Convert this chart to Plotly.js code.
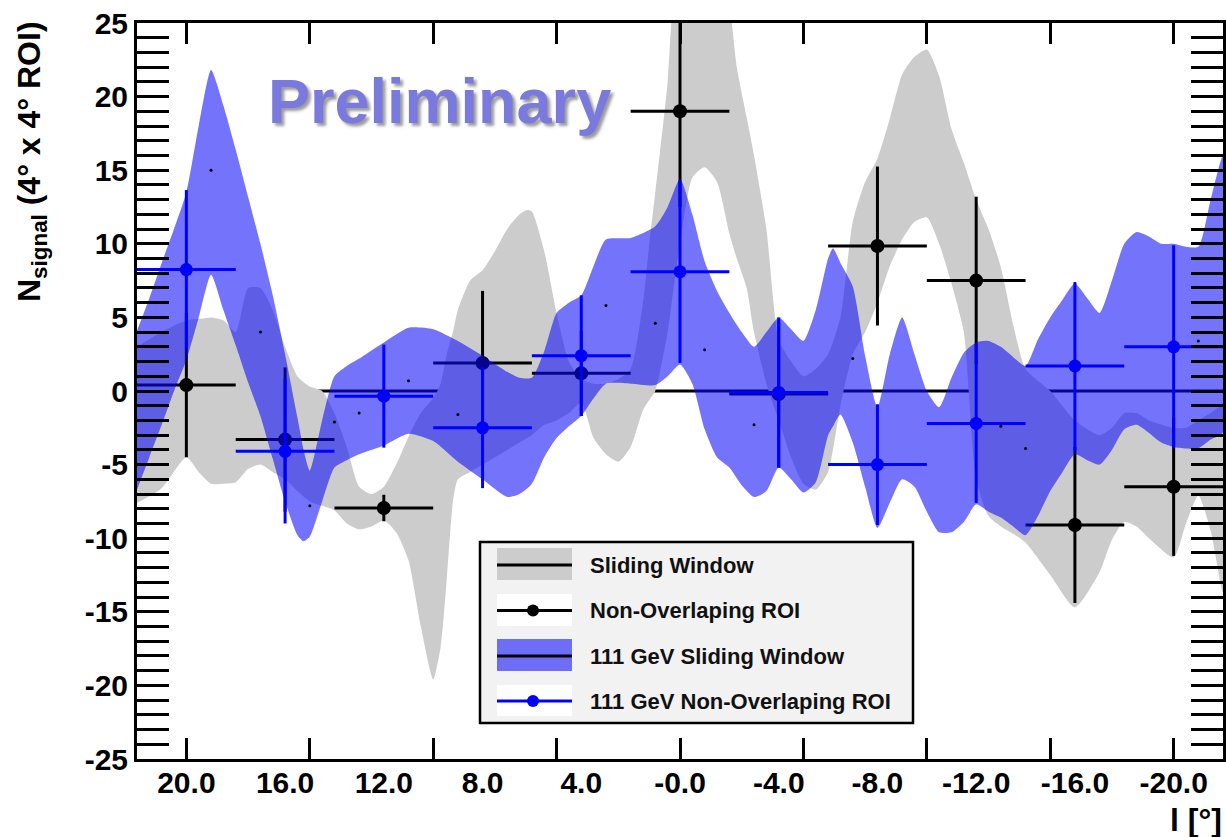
<!DOCTYPE html>
<html><head><meta charset="utf-8">
<script src="https://cdn.plot.ly/plotly-3.0.1.min.js"></script>
<style>html,body{margin:0;padding:0;background:#fff;}#chart{width:1226px;height:837px;}</style>
</head><body><div id="chart"></div>
<script>
// ---------- data ----------
const roiL = [20, 16, 12, 8, 4, 0, -4, -8, -12, -16, -20];
const tickLabels = ['20.0','16.0','12.0','8.0','4.0','-0.0','-4.0','-8.0','-12.0','-16.0','-20.0'];
const majorTickL = [20, 15, 10, 5, 0, -5, -10, -15, -20];
const yTickVals = [25, 20, 15, 10, 5, 0, -5, -10, -15, -20, -25];
const yTickLabels = ['25', '20', '15', '10', '5', '0', '-5', '-10', '-15', '-20', '-25'];
const roiHalfWidth = 2;

const roiVal = [0.4, -3.3, -7.95, 1.9, 1.2, 19.0, -0.2, 9.85, 7.5, -9.1, -6.5];
const roiErr = [4.9, 4.9, 0.9, 4.9, 2.9, 6.5, 5.0, 5.4, 5.7, 5.3, 4.7];

const roi111Val = [8.25, -4.1, -0.35, -2.5, 2.4, 8.1, -0.1, -5.0, -2.2, 1.7, 3.0];
const roi111Err = [5.4, 4.9, 3.5, 4.1, 4.1, 6.2, 5.1, 4.1, 5.4, 5.7, 6.9];

const swL    = [22,21,20,19.5,19,18.5,18,17.5,17,16.5,16,15.5,15,14.5,14,13.5,13,12.5,12,11.5,11,10.5,10,9.7,9.45,9.2,9,8.5,8,7.5,7,6.5,6.2,6,5.5,5,4.5,4,3.5,3,2.5,2,1.5,1.2,1,0.5,0.3,0,-0.5,-1,-1.5,-2,-2.3,-2.7,-3,-3.5,-4,-4.5,-5,-5.5,-6,-6.5,-7,-7.5,-8,-8.5,-9,-9.5,-10,-10.5,-11,-11.5,-12,-12.5,-13,-13.5,-14,-15,-16,-17,-17.5,-18,-18.5,-19,-20,-20.5,-21,-21.5,-22];
const swLow  = [-7.6,-6.6,-4.5,-5.5,-6.3,-6.3,-6.2,-5.3,-5.0,-5.5,-6.0,-6.8,-7.5,-7.8,-8.1,-9.0,-9.4,-9.2,-8.8,-9.6,-11.5,-16.0,-19.6,-17.4,-12.8,-7.5,-6.0,-5.5,-5.0,-4.5,-4.0,-3.5,-3.2,-3.0,-2.3,-2.0,-1.5,-0.8,-3.2,-4.3,-4.8,-3.8,-1.3,-0.5,0.0,4.0,6.5,10.0,14.5,15.2,14.2,10.7,9.0,7.0,4.0,0.5,-2.0,-4.5,-6.3,-6.7,-5.5,-1.0,2.5,4.0,6.0,8.5,10.3,11.5,11.8,10.0,7.3,4.0,-6.0,-8.5,-9.2,-9.7,-10.3,-12.5,-14.7,-12.3,-10.1,-8.9,-9.2,-10.0,-11.3,-9.0,-7.1,-9.5,-13.7];
const swHigh = [3.0,4.0,4.8,4.9,5.0,4.8,4.0,7.0,7.0,5.5,3.0,1.0,0.3,0.0,-1.5,-3.8,-6.5,-7.0,-6.5,-5.0,-3.1,-1.5,-0.5,0.5,2.5,4.0,5.5,7.5,8.2,9.5,11.0,12.0,12.3,12.2,9.5,5.3,2.0,0.8,0.5,0.5,0.8,1.5,6.0,10.7,13.5,21.0,26.0,28.0,28.0,28.0,28.0,26.0,22.0,18.6,16.0,11.0,3.5,2.0,1.0,1.5,2.5,5.0,11.5,14.2,15.8,18.5,21.5,22.7,23.2,21.4,17.8,15.5,13.0,11.0,8.4,4.5,1.5,0.0,-2.0,-3.0,-2.5,-1.5,-1.5,-2.0,-2.5,-2.5,-2.0,-1.5,-1.0];

const sw111L    = [22,21.5,21,20.5,20,19.5,19,18.5,18,17.5,17,16.5,16,15.5,15.25,15,14.5,14,13.5,13,12,11,10,9,8,7,6.5,6,5.5,5,4.5,4,3.5,3,2,1,0.5,0,-0.5,-1,-1.5,-2,-2.5,-3,-3.5,-4,-4.5,-5,-5.5,-6,-6.2,-6.5,-7,-7.5,-8,-8.5,-9,-9.5,-10,-10.5,-11,-11.5,-12,-12.5,-13,-13.5,-14,-14.5,-15,-15.5,-16,-16.5,-17,-17.5,-18,-18.5,-19,-19.5,-20,-20.5,-21,-21.5,-22];
const sw111Low  = [-6.7,-4.5,-2.3,0.0,2.1,5.0,7.9,5.5,3.1,0.6,-1.7,-4.6,-7.5,-9.8,-10.2,-9.9,-7.5,-5.2,-4.7,-4.3,-3.7,-2.9,-3.4,-4.8,-6.0,-7.2,-7.0,-6.3,-4.5,-3.2,-2.4,-1.7,-0.5,0.5,0.5,0.4,1.0,1.8,0.5,-2.6,-4.5,-5.2,-6.4,-7.2,-6.8,-5.2,-6.0,-6.9,-6.2,-3.0,-2.4,-1.6,-3.5,-6.5,-9.3,-7.6,-6.0,-6.5,-8.2,-9.6,-9.6,-8.9,-7.7,-8.2,-8.6,-9.2,-9.8,-8.5,-6.8,-5.5,-4.3,-4.7,-5.0,-4.0,-2.6,-2.3,-2.85,-3.5,-3.8,-3.9,-3.9,-3.3,-2.8];
const sw111High = [4.1,6.3,8.7,11.0,13.5,18.0,21.8,19.4,16.4,13.2,10.0,6.5,2.5,-1.8,-4.0,-5.4,-2.0,1.0,1.7,2.2,3.3,4.3,4.2,3.4,2.4,1.3,0.9,0.9,2.7,5.3,6.0,6.5,8.5,10.3,10.4,11.2,12.5,14.4,12.0,8.8,6.8,5.3,4.0,3.0,4.0,5.0,4.2,3.4,5.5,9.0,9.7,8.7,7.1,2.4,-1.1,2.5,5.0,2.5,0.0,-1.1,0.9,2.6,3.3,3.4,3.0,2.3,1.7,3.5,5.0,6.2,7.3,6.3,5.3,7.5,10.0,10.8,10.5,10.0,10.0,9.8,9.8,13.0,16.0];

const sw111CenterL = [19, 17, 15, 14, 13, 11, 9, 3, 1, -1, -3, -7, -13, -14, -21];
const sw111Center  = [15.0, 4.0, -7.8, -2.1, -1.5, 0.7, -1.6, 5.8, 4.6, 2.8, -2.3, 2.2, -2.4, -3.9, 3.4];

const legendLabels = ['Sliding Window', 'Non-Overlaping ROI', '111 GeV Sliding Window', '111 GeV Non-Overlaping ROI'];

// ---------- styles ----------
const GRAY = '#cccccc';
const BLUE = '#0000ff';
const BLUEFILL = 'rgba(8,8,250,0.57)';
const FONT = 'Liberation Sans, Arial, Helvetica, sans-serif';

function band(xs, lo, hi, color) {
  return {
    x: xs.concat(xs.slice().reverse()),
    y: hi.concat(lo.slice().reverse()),
    type: 'scatter', mode: 'lines', fill: 'toself', fillcolor: color,
    line: {width: 0, shape: 'spline', smoothing: 0.6, color: color},
    hoverinfo: 'skip', showlegend: false
  };
}

const traces = [
  band(swL, swLow, swHigh, GRAY),
  {
    x: roiL, y: roiVal, type: 'scatter', mode: 'markers',
    marker: {color: 'black', size: 14},
    error_y: {type: 'data', array: roiErr, color: 'black', thickness: 3, width: 0},
    error_x: {type: 'constant', value: roiHalfWidth, color: 'black', thickness: 3, width: 0},
    showlegend: false
  },
  band(sw111L, sw111Low, sw111High, BLUEFILL),
  {
    x: roiL, y: roi111Val, type: 'scatter', mode: 'markers',
    marker: {color: BLUE, size: 13},
    error_y: {type: 'data', array: roi111Err, color: BLUE, thickness: 3, width: 0},
    error_x: {type: 'constant', value: roiHalfWidth, color: BLUE, thickness: 3, width: 0},
    showlegend: false
  },
  {
    x: sw111CenterL, y: sw111Center, type: 'scatter', mode: 'markers',
    marker: {color: 'black', size: 3}, showlegend: false
  }
];

// plot frame in pixels: left 137, right 1223, top 23, bottom 759
const PL = 137, PR = 1223, PT = 23, PB = 759;
const px = v => (v - PL) / (PR - PL);
const py = v => (PB - v) / (PB - PT);

const shapes = [
  {type: 'line', xref: 'paper', yref: 'y', x0: 0, x1: 1, y0: 0, y1: 0, layer: 'below', line: {color: 'black', width: 3}},
  // legend box
  {type: 'rect', xref: 'paper', yref: 'paper', x0: px(480), x1: px(913), y0: py(542), y1: py(723), fillcolor: '#f2f2f2', line: {color: 'black', width: 2.5}},
  // entry 1
  {type: 'rect', xref: 'paper', yref: 'paper', x0: px(497), x1: px(572), y0: py(548), y1: py(580), fillcolor: GRAY, line: {width: 0}},
  {type: 'line', xref: 'paper', yref: 'paper', x0: px(497), x1: px(572), y0: py(565), y1: py(565), line: {color: 'black', width: 3}},
  // entry 2
  {type: 'rect', xref: 'paper', yref: 'paper', x0: px(497), x1: px(572), y0: py(594), y1: py(626), fillcolor: 'white', line: {width: 0}},
  {type: 'line', xref: 'paper', yref: 'paper', x0: px(497), x1: px(572), y0: py(610.5), y1: py(610.5), line: {color: 'black', width: 3}},
  {type: 'circle', xref: 'paper', yref: 'paper', x0: px(527), x1: px(539), y0: py(604.5), y1: py(616.5), fillcolor: 'black', line: {width: 0}},
  // entry 3
  {type: 'rect', xref: 'paper', yref: 'paper', x0: px(497), x1: px(572), y0: py(639), y1: py(671), fillcolor: BLUEFILL, line: {width: 0}},
  {type: 'line', xref: 'paper', yref: 'paper', x0: px(497), x1: px(572), y0: py(656), y1: py(656), line: {color: 'black', width: 3}},
  // entry 4
  {type: 'rect', xref: 'paper', yref: 'paper', x0: px(497), x1: px(572), y0: py(685), y1: py(716), fillcolor: 'white', line: {width: 0}},
  {type: 'line', xref: 'paper', yref: 'paper', x0: px(497), x1: px(572), y0: py(701), y1: py(701), line: {color: BLUE, width: 3}},
  {type: 'circle', xref: 'paper', yref: 'paper', x0: px(527), x1: px(539), y0: py(695), y1: py(707), fillcolor: BLUE, line: {width: 0}}
];

const legendY = [565, 610.5, 656, 701];
const annotations = legendLabels.map((t, i) => ({
  text: t, xref: 'paper', yref: 'paper', x: px(588), y: py(legendY[i]),
  xanchor: 'left', yanchor: 'middle', showarrow: false,
  font: {family: FONT, size: 22, weight: 'bold', color: '#111'}
}));

annotations.push({
  text: 'Preliminary', xref: 'paper', yref: 'paper', x: px(266), y: py(101),
  xanchor: 'left', yanchor: 'middle', showarrow: false,
  font: {family: FONT, size: 63, weight: 'bold', color: 'rgb(122,122,222)', shadow: '3px 3px 3px rgba(90,90,90,0.6)'}
});
annotations.push({
  text: 'N<sub>signal</sub> (4° x 4° ROI)', xref: 'paper', yref: 'paper', x: px(31), y: py(162),
  xanchor: 'center', yanchor: 'middle', textangle: -90, showarrow: false,
  font: {family: FONT, size: 32, weight: 'bold', color: 'black'}
});
annotations.push({
  text: 'l [°]', xref: 'paper', yref: 'paper', x: px(1224), y: py(820),
  xanchor: 'right', yanchor: 'middle', showarrow: false,
  font: {family: FONT, size: 32, weight: 'bold', color: 'black'}
});

const tickFont = {family: FONT, size: 30, weight: 'bold', color: 'black'};

const layout = {
  width: 1226, height: 837,
  margin: {l: PL, r: 1226 - PR, t: PT, b: 837 - PB, pad: 0},
  paper_bgcolor: 'white', plot_bgcolor: 'white',
  showlegend: false,
  xaxis: {
    range: [22, -22], tickmode: 'array', tickvals: roiL, ticktext: tickLabels,
    ticks: '', showline: true, linecolor: 'black', linewidth: 3, mirror: true,
    showgrid: false, zeroline: false, tickfont: tickFont, ticklabelstandoff: -5
  },
  xaxis2: {
    overlaying: 'x', anchor: 'y', side: 'bottom', range: [22, -22],
    tickmode: 'array', tickvals: majorTickL, ticks: 'inside', ticklen: 21, tickwidth: 3, tickcolor: 'black',
    showticklabels: false, mirror: 'allticks', showline: false, showgrid: false, zeroline: false
  },
  yaxis: {
    range: [-25, 25], tickmode: 'array', tickvals: yTickVals, ticktext: yTickLabels,
    ticks: 'inside', ticklen: 32, tickwidth: 3, tickcolor: 'black',
    minor: {dtick: 1, ticklen: 17, tickwidth: 3, ticks: 'inside', tickcolor: 'black', showgrid: false},
    showline: true, linecolor: 'black', linewidth: 3, mirror: 'allticks',
    showgrid: false, zeroline: false, tickfont: tickFont
  },
  shapes: shapes,
  annotations: annotations
};

// an invisible trace to activate xaxis2
traces.push({x: [0], y: [0], xaxis: 'x2', yaxis: 'y', mode: 'markers', marker: {opacity: 0}, hoverinfo: 'skip', showlegend: false});

Plotly.newPlot('chart', traces, layout, {staticPlot: true});
</script>
</body></html>
